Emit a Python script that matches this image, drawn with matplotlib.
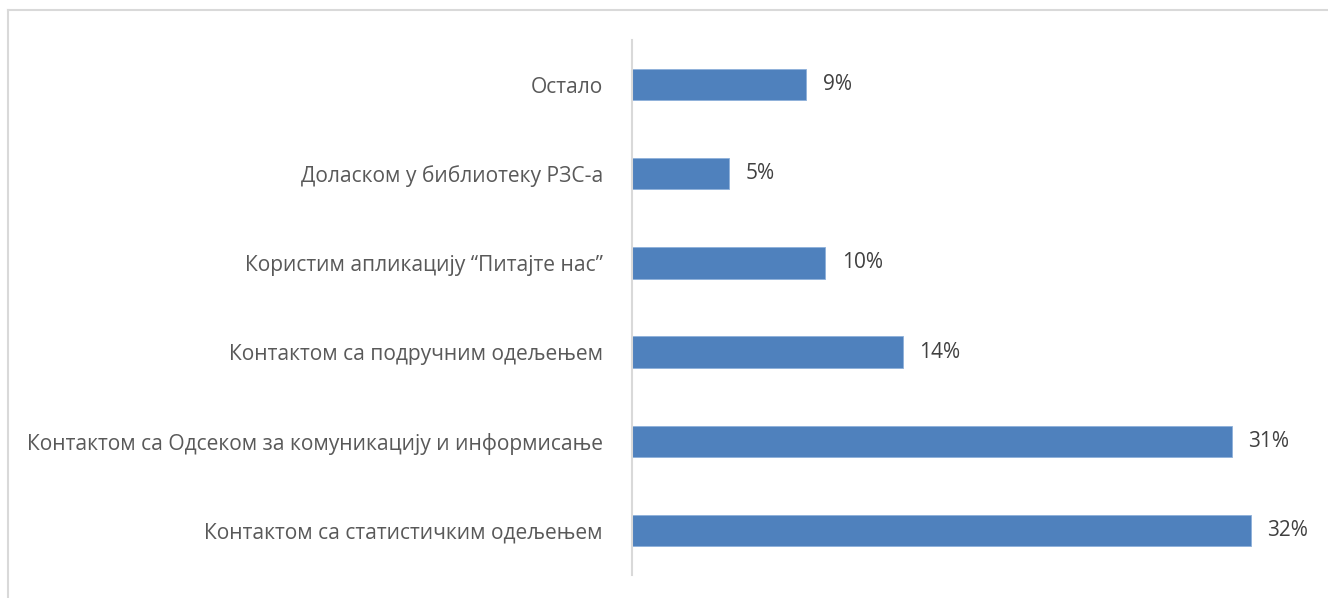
import matplotlib.pyplot as plt
from matplotlib.lines import Line2D

categories = [
    "Контактом са статистичким одељењем",
    "Контактом са Одсеком за комуникацију и информисање",
    "Контактом са подручним одељењем",
    "Користим апликацију “Питајте нас”",
    "Доласком у библиотеку РЗС-а",
    "Остало",
]
values = [32, 31, 14, 10, 5, 9]

BAR_COLOR = "#4F81BD"
LABEL_COLOR = "#595959"
VALUE_COLOR = "#404040"
GRID_COLOR = "#D9D9D9"

plt.rcParams["font.family"] = ["Open Sans", "DejaVu Sans"]

fig = plt.figure(figsize=(13.28, 5.98), dpi=100)
ax = fig.add_axes([632 / 1328, 23 / 598, 677 / 1328, 535 / 598])

pos = range(len(categories))
ax.barh(pos, values, height=0.35, color=BAR_COLOR, edgecolor="#8EB0DA", linewidth=0.6)
for y, v in zip(pos, values):
    ax.text(v + 0.85, y, f"{v}%", va="center", ha="left", fontsize=15, color=VALUE_COLOR)

ax.set_xlim(0, 35)
ax.set_ylim(-0.5, len(categories) - 0.5)
ax.set_yticks(list(pos))
ax.set_yticklabels(categories, fontsize=15.1, color=LABEL_COLOR)
ax.tick_params(axis="y", length=0, pad=21)
ax.set_xticks([])
for side in ["top", "right", "bottom"]:
    ax.spines[side].set_visible(False)
ax.spines["left"].set_color(GRID_COLOR)
ax.spines["left"].set_linewidth(1.5)

# outer chart border (runs past the right and bottom edges)
fig.add_artist(Line2D([8 / 1328, 8 / 1328], [0, 1 - 10 / 598], color=GRID_COLOR, lw=1.5))
fig.add_artist(Line2D([8 / 1328, 1], [1 - 10 / 598, 1 - 10 / 598], color=GRID_COLOR, lw=1.5))

fig.savefig("out.png", dpi=100)
